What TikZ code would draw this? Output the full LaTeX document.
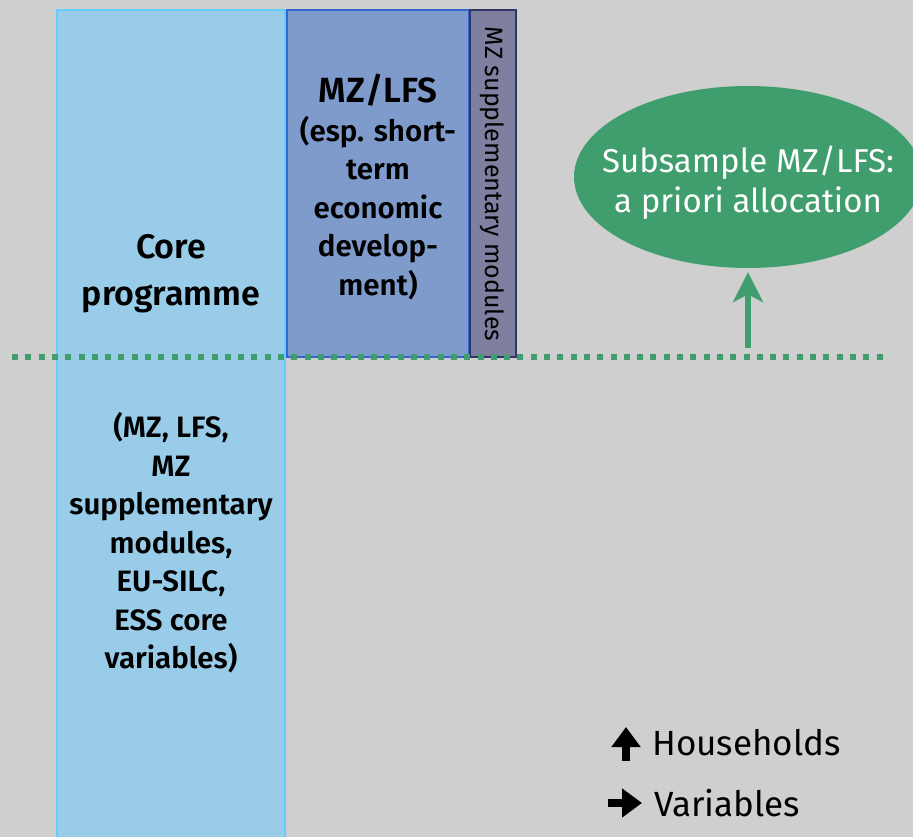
\documentclass[tikz,border=0pt]{standalone}
\usepackage{fontspec}
\setmainfont{Fira Sans}[BoldFont={* SemiBold}]
\usetikzlibrary{shapes.geometric, arrows.meta}

\definecolor{bggray}{RGB}{207,207,207}
\definecolor{corefill}{RGB}{153,204,232}
\definecolor{coreline}{RGB}{102,204,255}
\definecolor{lfsfill}{RGB}{127,155,204}
\definecolor{lfsline}{RGB}{51,102,204}
\definecolor{suppfill}{RGB}{127,127,160}
\definecolor{suppline}{RGB}{51,51,102}
\definecolor{sampgreen}{RGB}{64,158,110}

\begin{document}
\begin{tikzpicture}[
                x=1pt, y=-1pt,
                block/.style={draw, line width=2pt, inner sep=0pt},
                label/.style={align=center, font=\bfseries\fontsize{29.5}{38.5}\selectfont},
                legend/.style={anchor=west, inner sep=0pt, font=\fontsize{35}{40}\selectfont},
                legarrow/.style={line width=8pt, -{Triangle[length=20pt, width=28pt]}}
            ]
            \fill[bggray] (0,0) rectangle (913,837);
            \useasboundingbox (0,0) rectangle (913,837);
            % columns
            \draw[block, fill=corefill, draw=coreline] (57,10) rectangle (285,845);
            \draw[block, fill=lfsfill, draw=lfsline] (287,10) rectangle (469,357);
            \draw[block, fill=suppfill, draw=suppline] (470,10) rectangle (516,357);
            % texts
            \node[label, font=\bfseries\fontsize{34}{47}\selectfont] (core) at (171,274) {Core\\programme};
            \node[label] (corelist) at (171,543)
                {(MZ, LFS,\\MZ\\supplementary\\modules,\\EU-SILC,\\ESS core\\variables)};
            \node[label, font=\bfseries\fontsize{35}{38}\selectfont] (lfs) at (378,90) {MZ/LFS};
            \node[label] (lfsnote) at (378,208)
                {(esp. short-\\term\\economic\\develop-\\ment)};
            \node[rotate=-90, font=\fontsize{25}{28}\selectfont] (supp) at (492,184) {MZ supplementary modules};
            % sample split
            \coordinate (split w) at (12,357);
            \coordinate (split e) at (883,357);
            \draw[sampgreen, line width=6pt, dash pattern=on 6pt off 7.3pt] (split w) -- (split e);
            \node[ellipse, fill=sampgreen, inner sep=0pt, minimum width=348pt, minimum height=182pt] (sub) at (748,177) {};
            \node[align=center, text=white, font=\fontsize{33}{40}\selectfont] (subtext) at (748,183)
                {Subsample MZ/LFS:\\a priori allocation};
            \coordinate (arrow foot) at (748,348);
            \draw[sampgreen, line width=6pt, -{Stealth[length=30pt, width=30pt, inset=8pt]}]
                (arrow foot) -- ([yshift=-4pt]sub.south);
            % legend
            \node[legend] (hh) at (652,743) {Households};
            \node[legend] (var) at (654,803) {Variables};
            \draw[legarrow] ([xshift=-26pt, yshift=-18pt]hh.west) -- ++(0,-34);
            \draw[legarrow] ([xshift=-46pt]var.west) -- ++(34,0);
        \end{tikzpicture}
\end{document}
